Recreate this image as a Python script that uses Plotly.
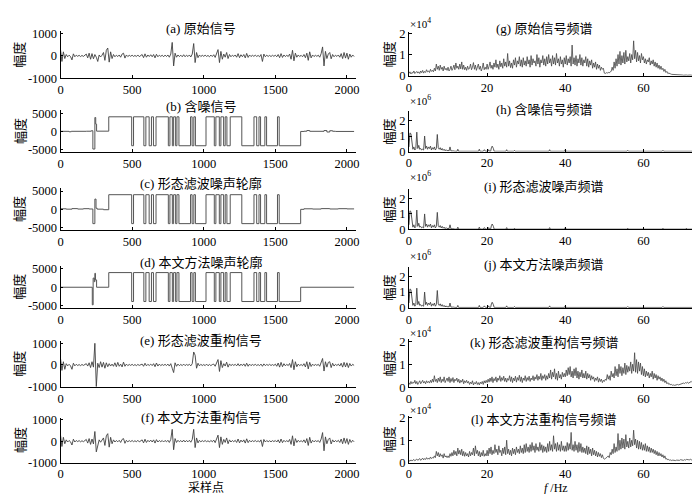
import numpy as np
import plotly.graph_objects as go

W, H = 700, 494
FONT = "Liberation Serif, Times New Roman, Noto Sans CJK SC"

# ---- time-domain signals, one value every 10 samples ----
t = np.arange(0, 2060, 10)

sig_a = [280, -250, 180, -120, 60, -40, 30, -30, -180, 90,
         -40, 30, -20, 25, -30, 20, -25, 40, 80, -90,
         120, -150, 100, -130, 60, -60, -250, 40, -50, 30,
         150, -200, 250, 350, -280, 180, -120, 60, -40, 30,
         -30, 40, -60, 80, 120, -100, 40, -30, 25, -20,
         30, -25, 20, -30, 40, -35, 30, 60, -80, 90,
         -60, 40, -30, 50, -40, 60, -90, 70, -40, 30,
         -25, 30, -40, 35, -30, 40, -60, 80, 600, -450,
         120, -60, 40, -30, 30, -40, 50, -40, 30, -30,
         40, -50, 80, 550, -300, 150, -80, 40, -30, 25,
         -20, 30, -25, 20, -40, 35, -30, 50, -70, 120,
         280, -300, 200, -150, 80, -60, 150, -120, 60, -40,
         30, -25, 40, -60, 100, -80, 50, -40, 60, -90,
         110, -70, 40, -30, 25, -20, 30, -25, 20, -40,
         60, -250, 80, -40, 30, -25, 20, -30, 25, -20,
         30, -40, 60, -80, 100, -70, 40, -30, 25, -30,
         80, -150, 250, -220, 120, -60, 40, -30, 25, -40,
         60, -80, 120, -200, 180, -90, 40, -30, 25, -20,
         30, -60, 100, 400, -450, 200, -120, 80, 150, -130,
         60, -40, 30, -25, 40, -60, 100, -120, 150, -100,
         120, -150, 80, -60, 40, -30]

sig_e = [300, -250, 150, -200, 60, -40, 30, -40, -200, 80,
         -40, 30, -25, 20, -30, 25, -20, 30, 60, -50,
         100, -120, 150, -100, 1000, -1000, 80, -120, 150, -100,
         120, -150, 100, -80, 60, -50, 40, -60, 100, -80,
         120, -60, 40, -90, 130, -60, 40, -30, 25, -20,
         30, -25, 20, -30, 25, -20, 30, 40, -60, 80,
         -40, 30, -25, 40, -30, 60, -80, 90, -50, 40,
         -30, 25, -20, 30, -25, 40, -50, 60, -150, -350,
         100, -60, 40, -30, 25, -30, 40, -30, 25, -20,
         30, -40, 60, 600, 450, -150, 80, -40, 30, -25,
         20, -30, 40, -35, 25, -30, 20, 40, -60, 100,
         250, -300, 200, -120, 60, -50, 130, -100, 50, -30,
         25, -20, 30, -40, 60, -50, 40, -30, 50, -60,
         80, -60, 40, -30, 25, -20, 30, -25, 20, -30,
         40, -60, 50, -30, 25, -20, 30, -25, 20, -25,
         40, -60, 90, -100, 120, -80, 60, -40, 30, -30,
         70, -120, 250, -220, 150, -80, 40, -30, 25, -40,
         60, -90, 150, -180, 120, -70, 40, -30, 25, -20,
         30, -60, 120, 300, -280, 150, -100, 120, 150, -120,
         80, -50, 30, -25, 40, -50, 80, -100, 120, -90,
         100, -120, 70, -50, 30, -20]

sig_f = [280, -250, 180, -120, 60, -40, 30, -30, -180, 90,
         -40, 30, -20, 25, -30, 20, -25, 40, 80, -90,
         120, -150, 100, -130, 450, -500, -250, 60, -50, 30,
         150, -200, 250, 350, -280, 180, -120, 60, -40, 30,
         -30, 40, -60, 80, 120, -100, 40, -30, 25, -20,
         30, -25, 20, -30, 40, -35, 30, 60, -80, 90,
         -60, 40, -30, 50, -40, 60, -90, 70, -40, 30,
         -25, 30, -40, 35, -30, 40, -60, 80, 550, -400,
         120, -60, 40, -30, 30, -40, 50, -40, 30, -30,
         40, -50, 80, 550, -300, 150, -80, 40, -30, 25,
         -20, 30, -25, 20, -40, 35, -30, 50, -70, 120,
         280, -300, 200, -150, 80, -60, 150, -120, 60, -40,
         30, -25, 40, -60, 100, -80, 50, -40, 60, -90,
         110, -70, 40, -30, 25, -20, 30, -25, 20, -40,
         60, -250, 80, -40, 30, -25, 20, -30, 25, -20,
         30, -40, 60, -80, 100, -70, 40, -30, 25, -30,
         80, -150, 250, -220, 120, -60, 40, -30, 25, -40,
         60, -80, 120, -200, 180, -90, 40, -30, 25, -20,
         30, -60, 100, 400, -450, 200, -120, 80, 150, -130,
         60, -40, 30, -25, 40, -60, 100, -120, 150, -100,
         120, -150, 80, -60, 40, -30]

# ---- noise profile: segment start points and levels (step curve) ----
pulse_x = [337, 497, 510, 582, 596, 619, 635, 649, 667, 753, 764, 781, 790,
           804, 813, 827, 908, 919, 931, 942, 1016, 1074, 1085, 1109, 1120,
           1139, 1150, 1162, 1185, 1266, 1351, 1370, 1386, 1397, 1427, 1439,
           1515, 1527, 1677]
pulse_y = [4000, -3900, 4000, -3900, 4000, -3900, 4000, -3900, 4000, -3900,
           4000, -3900, 4000, -3900, 4000, -3900, 4000, -3900, 4000, -3900,
           4000, -3900, 4000, -3900, 4000, -3900, 4000, -3900, 4000, -3900,
           4000, -3900, 4000, -3900, 4000, -3900, 4000, -3900, 0]

b_pre_x = [0, 60, 75, 180, 215, 226, 240, 246, 252]
b_pre_y = [30, -80, 40, 60, 200, -4800, 3800, 2000, 80]
b_post_x = [1700, 1720, 1740, 1840, 1860, 1880, 1900, 1920, 2050]
b_post_y = [60, 250, 40, 250, -150, 200, 50, 0, 0]

c_pre_x = [0, 40, 80, 120, 160, 200, 226, 240, 248, 256, 300]
c_pre_y = [150, 50, 200, 80, 180, 100, -3900, 2800, 300, 50, -100]
c_post_x = [1700, 1760, 1820, 1880, 1940, 2000, 2050]
c_post_y = [150, 80, 200, 100, 180, 120, 120]

d_pre_x = [0, 222, 228, 236, 240, 244, 252]
d_pre_y = [0, -4800, 2500, 1500, 3800, 2000, 0]
d_post_x = [2050]
d_post_y = [0]

# ---- spectra, 0.25 Hz spacing (x10^4) ----
f = np.arange(0, 75.25, 0.25)

spec_g = [0.10, 0.18, 0.08, 0.15, 0.12, 0.22, 0.10, 0.16, 0.20, 0.12, 0.18, 0.10, 0.22, 0.14, 0.25, 0.12, 0.20, 0.15, 0.28, 0.18,
          0.22, 0.15, 0.30, 0.20, 0.25, 0.18, 0.35, 0.22, 0.55, 0.30, 0.45, 0.25, 0.50, 0.30, 0.40, 0.22, 0.45, 0.28, 0.35, 0.25,
          0.40, 0.22, 0.30, 0.45, 0.25, 0.35, 0.50, 0.28, 0.60, 0.35, 0.45, 0.30, 0.55, 0.32, 0.65, 0.30, 0.50, 0.28, 0.40, 0.25,
          0.45, 0.30, 0.35, 0.55, 0.28, 0.40, 0.62, 0.30, 0.50, 0.25, 0.38, 0.55, 0.30, 0.45, 0.22, 0.35, 0.60, 0.28, 0.40, 0.30,
          0.55, 0.30, 0.45, 0.65, 0.35, 0.50, 0.30, 0.60, 0.40, 0.75, 0.38, 0.55, 0.30, 0.70, 0.42, 0.60, 0.35, 0.80, 0.45, 0.65,
          0.40, 1.05, 0.45, 0.70, 0.38, 0.60, 0.35, 0.75, 0.50, 0.85, 0.40, 0.70, 0.55, 0.90, 0.45, 0.75, 0.40, 0.85, 0.50, 0.70,
          0.45, 0.90, 0.55, 0.75, 0.40, 0.95, 0.50, 0.80, 0.60, 0.70, 0.45, 1.00, 0.55, 0.85, 0.40, 0.75, 0.60, 0.95, 0.50, 0.80,
          0.45, 0.90, 0.55, 1.00, 0.60, 0.80, 0.45, 0.95, 0.55, 0.85, 0.50, 1.05, 0.60, 0.80, 0.45, 0.90, 0.55, 0.75, 0.40, 0.85,
          0.55, 0.95, 0.50, 0.80, 0.60, 0.90, 0.45, 1.45, 0.55, 0.85, 0.50, 0.95, 0.45, 0.80, 0.60, 1.00, 0.50, 0.85, 0.45, 0.75,
          0.60, 0.90, 0.45, 0.80, 0.40, 0.70, 0.50, 0.75, 0.35, 0.60, 0.40, 0.65, 0.30, 0.55, 0.35, 0.50, 0.25, 0.40, 0.30, 0.35,
          0.12, 0.10, 0.14, 0.12, 0.15, 0.13, 0.18, 0.20, 0.40, 0.25, 0.65, 0.35, 0.80, 0.45, 1.00, 0.55, 1.15, 0.50, 0.95, 0.60,
          1.10, 0.55, 1.20, 0.65, 0.90, 0.70, 1.05, 0.60, 1.00, 0.75, 1.65, 0.80, 1.20, 0.65, 1.10, 0.70, 0.95, 0.60, 1.05, 0.75,
          0.90, 0.60, 0.80, 0.55, 0.75, 0.65, 0.85, 0.50, 0.70, 0.55, 0.75, 0.45, 0.65, 0.40, 0.60, 0.35, 0.50, 0.30, 0.45, 0.28,
          0.35, 0.20, 0.30, 0.15, 0.20, 0.10, 0.12, 0.08, 0.08, 0.06, 0.06, 0.05, 0.05, 0.04, 0.04, 0.03, 0.04, 0.03, 0.03, 0.03,
          0.03, 0.02, 0.03, 0.02, 0.03, 0.02, 0.03, 0.02, 0.03, 0.02, 0.03, 0.02, 0.03, 0.02, 0.03, 0.02, 0.03, 0.02, 0.03, 0.02,
          0.03]

spec_k = [0.20, 0.12, 0.25, 0.15, 0.22, 0.18, 0.30, 0.15, 0.25, 0.12, 0.20, 0.28, 0.15, 0.22, 0.30, 0.18, 0.25, 0.15, 0.28, 0.20,
          0.25, 0.18, 0.30, 0.20, 0.35, 0.22, 0.50, 0.25, 0.35, 0.20, 0.40, 0.25, 0.45, 0.20, 0.35, 0.25, 0.45, 0.20, 0.30, 0.40,
          0.25, 0.45, 0.20, 0.38, 0.25, 0.42, 0.20, 0.35, 0.28, 0.40, 0.22, 0.35, 0.18, 0.30, 0.22, 0.35, 0.15, 0.28, 0.20, 0.30,
          0.18, 0.25, 0.12, 0.22, 0.15, 0.28, 0.10, 0.20, 0.15, 0.25, 0.12, 0.20, 0.10, 0.22, 0.15, 0.25, 0.12, 0.28, 0.18, 0.30,
          0.20, 0.35, 0.22, 0.40, 0.25, 0.45, 0.20, 0.38, 0.28, 0.45, 0.22, 0.40, 0.30, 0.50, 0.25, 0.42, 0.30, 0.48, 0.25, 0.40,
          0.22, 0.38, 0.30, 0.50, 0.25, 0.45, 0.20, 0.40, 0.28, 0.48, 0.22, 0.42, 0.30, 0.52, 0.25, 0.45, 0.20, 0.40, 0.30, 0.50,
          0.25, 0.42, 0.30, 0.48, 0.25, 0.40, 0.32, 0.50, 0.28, 0.45, 0.35, 0.55, 0.30, 0.48, 0.35, 0.60, 0.30, 0.50, 0.38, 0.55,
          0.30, 0.50, 0.35, 0.60, 0.40, 0.75, 0.35, 0.65, 0.45, 0.80, 0.35, 0.60, 0.30, 0.70, 0.40, 0.55, 0.35, 0.65, 0.45, 0.60,
          0.45, 0.75, 0.50, 0.85, 0.55, 0.90, 0.45, 0.70, 0.40, 0.80, 0.50, 0.85, 0.40, 0.70, 0.35, 0.65, 0.45, 0.75, 0.40, 0.60,
          0.40, 0.70, 0.35, 0.60, 0.40, 0.55, 0.30, 0.50, 0.35, 0.45, 0.25, 0.40, 0.30, 0.45, 0.22, 0.38, 0.25, 0.35, 0.20, 0.30,
          0.25, 0.35, 0.30, 0.55, 0.35, 0.50, 0.30, 0.70, 0.45, 0.60, 0.40, 0.90, 0.50, 0.80, 0.45, 1.00, 0.60, 0.90, 0.50, 0.85,
          0.60, 1.05, 0.55, 0.95, 0.65, 0.90, 0.70, 1.10, 0.60, 1.00, 0.70, 1.50, 0.65, 1.20, 0.60, 1.10, 0.70, 1.05, 0.55, 0.90,
          0.50, 0.80, 0.45, 0.70, 0.50, 0.65, 0.40, 0.60, 0.45, 0.70, 0.35, 0.60, 0.40, 0.55, 0.30, 0.50, 0.35, 0.45, 0.28, 0.40,
          0.25, 0.35, 0.20, 0.28, 0.15, 0.20, 0.12, 0.15, 0.10, 0.12, 0.08, 0.10, 0.08, 0.10, 0.09, 0.12, 0.10, 0.12, 0.11, 0.14,
          0.15, 0.18, 0.16, 0.20, 0.18, 0.22, 0.17, 0.20, 0.22, 0.25, 0.20, 0.24, 0.22, 0.26, 0.23, 0.28, 0.24, 0.27, 0.25, 0.28,
          0.26]

spec_l = [0.10, 0.06, 0.12, 0.08, 0.10, 0.14, 0.08, 0.12, 0.16, 0.10, 0.14, 0.18, 0.10, 0.15, 0.20, 0.12, 0.18, 0.14, 0.22, 0.15,
          0.20, 0.15, 0.25, 0.18, 0.22, 0.20, 0.30, 0.22, 0.50, 0.30, 0.45, 0.25, 0.40, 0.28, 0.35, 0.20, 0.40, 0.25, 0.30, 0.22,
          0.30, 0.22, 0.40, 0.28, 0.45, 0.30, 0.55, 0.35, 0.50, 0.30, 0.65, 0.38, 0.55, 0.35, 0.60, 0.30, 0.50, 0.28, 0.45, 0.30,
          0.40, 0.25, 0.50, 0.30, 0.45, 0.35, 0.65, 0.30, 0.75, 0.40, 0.55, 0.30, 0.50, 0.25, 0.45, 0.30, 0.55, 0.28, 0.40, 0.30,
          0.55, 0.30, 0.65, 0.40, 0.70, 0.35, 0.55, 0.40, 0.80, 0.45, 0.60, 0.35, 0.75, 0.45, 0.55, 0.30, 0.65, 0.40, 0.70, 0.35,
          1.00, 0.40, 0.60, 0.35, 0.55, 0.30, 0.65, 0.40, 0.60, 0.35, 0.70, 0.45, 0.60, 0.40, 0.75, 0.45, 0.65, 0.40, 0.80, 0.45,
          0.85, 0.50, 0.70, 0.45, 0.80, 0.50, 0.90, 0.55, 0.75, 0.45, 0.85, 0.55, 0.70, 0.50, 0.90, 0.55, 0.80, 0.45, 0.75, 0.50,
          0.70, 0.45, 0.85, 0.50, 0.95, 0.55, 0.80, 0.50, 1.20, 0.60, 0.85, 0.50, 0.90, 0.55, 0.80, 0.50, 0.95, 0.55, 0.75, 0.50,
          0.75, 0.50, 0.90, 0.55, 0.85, 0.60, 1.35, 0.55, 0.80, 0.50, 0.95, 0.55, 0.80, 0.45, 0.90, 0.50, 0.85, 0.45, 0.70, 0.45,
          0.65, 0.40, 0.75, 0.35, 0.70, 0.40, 0.60, 0.30, 0.65, 0.35, 0.55, 0.30, 0.50, 0.25, 0.45, 0.28, 0.40, 0.22, 0.35, 0.20,
          0.15, 0.18, 0.20, 0.25, 0.30, 0.22, 0.45, 0.35, 0.60, 0.40, 0.85, 0.45, 0.70, 0.50, 1.30, 0.55, 1.00, 0.60, 1.10, 0.65,
          1.05, 0.60, 1.25, 0.70, 0.95, 0.65, 1.10, 0.70, 1.00, 0.75, 1.45, 0.80, 1.05, 0.65, 1.00, 0.60, 0.95, 0.60, 0.90, 0.55,
          0.80, 0.55, 0.85, 0.50, 0.75, 0.50, 0.70, 0.45, 0.65, 0.45, 0.60, 0.40, 0.55, 0.35, 0.50, 0.30, 0.45, 0.30, 0.40, 0.25,
          0.35, 0.20, 0.30, 0.15, 0.18, 0.12, 0.14, 0.10, 0.12, 0.09, 0.11, 0.10, 0.12, 0.09, 0.11, 0.10, 0.12, 0.10, 0.13, 0.11,
          0.12, 0.10, 0.13, 0.11, 0.14, 0.12, 0.13, 0.12, 0.15, 0.12, 0.14, 0.13, 0.15, 0.13, 0.16, 0.14, 0.15, 0.14, 0.16, 0.14,
          0.15]

# ---- noise spectra (x10^6): dense part 0-12 Hz every 0.25 Hz, then sparse tail ----
fn_lo = np.arange(0, 12.25, 0.25)
noise_lo = [0.30, 1.20, 1.15, 0.40, 0.15, 0.30, 0.10, 0.20, 1.25, 0.20,
            0.40, 0.15, 0.20, 0.10, 0.15, 0.10, 1.00, 0.20, 0.35, 0.15,
            0.30, 0.20, 0.35, 0.10, 0.25, 0.15, 0.30, 0.10, 0.20, 1.10,
            0.25, 0.15, 0.25, 0.10, 0.20, 0.08, 0.15, 0.05, 0.12, 0.05,
            0.08, 0.04, 0.30, 0.04, 0.05, 0.03, 0.04, 0.02, 0.03]
fn_tail = [12.3, 12.5, 12.7, 17.8, 18.0, 18.2, 19.0, 19.3, 19.6, 20.2, 20.4,
           20.6, 20.9, 21.1, 21.3, 21.6, 21.8, 22.0, 24.8, 25.0, 25.2, 26.8,
           27.0, 27.2, 33.3, 33.5, 33.7, 35.8, 36.0, 36.2, 39.8, 40.0, 40.2,
           49.8, 50.0, 50.2, 55.8, 56.0, 56.2, 64.8, 65.0, 65.2, 70.8, 71.0,
           71.2, 75.0]
tail_h = [0.02, 0.15, 0.02, 0.02, 0.15, 0.02, 0.02, 0.12, 0.02, 0.02, 0.12,
          0.02, 0.02, 0.25, 0.35, 0.20, 0.02, 0.02, 0.02, 0.12, 0.02, 0.02,
          0.08, 0.02, 0.02, 0.06, 0.02, 0.02, 0.12, 0.02, 0.02, 0.12, 0.02,
          0.02, 0.06, 0.02, 0.02, 0.08, 0.02, 0.02, 0.08, 0.02, 0.02, 0.02,
          0.02, 0.02]
tail_i = [0.02, 0.15, 0.02, 0.02, 0.15, 0.02, 0.02, 0.12, 0.02, 0.02, 0.12,
          0.02, 0.02, 0.25, 0.35, 0.20, 0.02, 0.02, 0.02, 0.12, 0.02, 0.02,
          0.08, 0.02, 0.02, 0.06, 0.02, 0.02, 0.12, 0.02, 0.02, 0.12, 0.02,
          0.02, 0.06, 0.02, 0.02, 0.08, 0.02, 0.02, 0.08, 0.02, 0.02, 0.08,
          0.02, 0.02]
tail_j = [0.02, 0.15, 0.02, 0.02, 0.15, 0.02, 0.02, 0.12, 0.02, 0.02, 0.12,
          0.02, 0.02, 0.25, 0.35, 0.20, 0.02, 0.02, 0.02, 0.12, 0.02, 0.02,
          0.08, 0.02, 0.02, 0.02, 0.02, 0.02, 0.12, 0.02, 0.02, 0.12, 0.02,
          0.02, 0.06, 0.02, 0.02, 0.08, 0.02, 0.02, 0.08, 0.02, 0.02, 0.02,
          0.02, 0.02]

titles_left = ["(a) 原始信号", "(b) 含噪信号", "(c) 形态滤波噪声轮廓",
               "(d) 本文方法噪声轮廓", "(e) 形态滤波重构信号", "(f) 本文方法重构信号"]
titles_right = ["(g) 原始信号频谱", "(h) 含噪信号频谱", "(i) 形态滤波噪声频谱",
                "(j) 本文方法噪声频谱", "(k) 形态滤波重构信号频谱", "(l) 本文方法重构信号频谱"]

# panel placement in pixels: (top, bottom)
left_rows = [(17.7, 66), (98.8, 141.7), (178.8, 221.7), (258.8, 301.7), (336, 382.7), (414.5, 460.7)]
right_rows = [(18.9, 63.3), (99.8, 141.3), (179.8, 221.3), (259.8, 301.7), (333.7, 383.3), (412.5, 460.7)]
left_x = (50, 348)
right_x = (402, 698)
title_y_left = [15, 95, 174, 255, 335, 414]
title_y_right = [15, 98, 177, 257, 337, 416]

fig = go.Figure()
layout = {}


def add_panel(n, xs, ys, xpx, ypx, xrange, xticks, yrange, yticks, color, width, shape="linear"):
    xa = "xaxis" if n == 1 else f"xaxis{n}"
    ya = "yaxis" if n == 1 else f"yaxis{n}"
    fig.add_trace(go.Scatter(x=xs, y=ys, mode="lines", xaxis=f"x{n}", yaxis=f"y{n}",
                             line=dict(color=color, width=width, shape=shape),
                             showlegend=False, hoverinfo="skip"))
    common = dict(showgrid=False, zeroline=False, showline=True, linecolor="black",
                  linewidth=0.8, ticks="inside", ticklen=3, tickcolor="black",
                  tickfont=dict(family=FONT, size=12.5, color="black"))
    layout[xa] = dict(domain=[xpx[0] / W, xpx[1] / W], range=xrange, anchor=f"y{n}",
                      tickvals=xticks, ticktext=[str(v) for v in xticks], **common)
    layout[ya] = dict(domain=[1 - ypx[1] / H, 1 - ypx[0] / H], range=yrange, anchor=f"x{n}",
                      tickvals=yticks, ticktext=[str(v) for v in yticks], **common)


xt_left = [0, 500, 1000, 1500, 2000]
xt_right = [0, 20, 40, 60]

prof_b = (b_pre_x + pulse_x + b_post_x, b_pre_y + pulse_y + b_post_y)
prof_c = (c_pre_x + pulse_x + c_post_x, c_pre_y + pulse_y + c_post_y)
prof_d = (d_pre_x + pulse_x + d_post_x, d_pre_y + pulse_y + d_post_y)

sig_col, sig_w = "#3f3f3f", 0.9
add_panel(1, t, sig_a, left_x, left_rows[0], [0, 2060], xt_left, [-1000, 1100], [-1000, 0, 1000], sig_col, sig_w)
add_panel(2, prof_b[0], prof_b[1], left_x, left_rows[1], [0, 2060], xt_left, [-5600, 5800], [-5000, 0, 5000], "#555555", 1, "hv")
add_panel(3, prof_c[0], prof_c[1], left_x, left_rows[2], [0, 2060], xt_left, [-5600, 5800], [-5000, 0, 5000], "#555555", 1, "hv")
add_panel(4, prof_d[0], prof_d[1], left_x, left_rows[3], [0, 2060], xt_left, [-5600, 5800], [-5000, 0, 5000], "#555555", 1, "hv")
add_panel(5, t, sig_e, left_x, left_rows[4], [0, 2060], xt_left, [-1000, 1100], [-1000, 0, 1000], sig_col, sig_w)
add_panel(6, t, sig_f, left_x, left_rows[5], [0, 2060], xt_left, [-1000, 1100], [-1000, 0, 1000], sig_col, sig_w)

fn_all = list(fn_lo) + fn_tail
spec_col, spec_w = "#444444", 0.8
add_panel(7, f, spec_g, right_x, right_rows[0], [0, 75], xt_right, [0, 2.05], [0, 1, 2], spec_col, spec_w)
add_panel(8, fn_all, noise_lo + tail_h, right_x, right_rows[1], [0, 75], xt_right, [0, 2.6], [0, 1, 2], "#444444", 0.9)
add_panel(9, fn_all, noise_lo + tail_i, right_x, right_rows[2], [0, 75], xt_right, [0, 2.6], [0, 1, 2], "#444444", 0.9)
add_panel(10, fn_all, noise_lo + tail_j, right_x, right_rows[3], [0, 75], xt_right, [0, 2.6], [0, 1, 2], "#444444", 0.9)
add_panel(11, f, spec_k, right_x, right_rows[4], [0, 75], xt_right, [0, 2.1], [0, 1, 2], spec_col, spec_w)
add_panel(12, f, spec_l, right_x, right_rows[5], [0, 75], xt_right, [0, 2.1], [0, 1, 2], spec_col, spec_w)

anns = []
tfont = dict(family=FONT, size=13, color="black")
for i in range(6):
    anns.append(dict(text=titles_left[i], x=192 / W, y=1 - title_y_left[i] / H, xref="paper", yref="paper",
                     showarrow=False, xanchor="center", yanchor="middle", font=tfont))
    anns.append(dict(text=titles_right[i], x=538 / W, y=1 - title_y_right[i] / H, xref="paper", yref="paper",
                     showarrow=False, xanchor="center", yanchor="middle", font=tfont))
    cy_l = (left_rows[i][0] + left_rows[i][1]) / 2
    cy_r = (right_rows[i][0] + right_rows[i][1]) / 2
    anns.append(dict(text="幅度", x=9 / W, y=1 - cy_l / H, xref="paper", yref="paper", textangle=-90,
                     showarrow=False, xanchor="center", yanchor="middle", font=tfont))
    anns.append(dict(text="幅度", x=382 / W, y=1 - cy_r / H, xref="paper", yref="paper", textangle=-90,
                     showarrow=False, xanchor="center", yanchor="middle", font=tfont))

exp_y = [9, 88, 166, 247, 327, 406]
exp_txt = ["×10<sup>4</sup>", "×10<sup>6</sup>", "×10<sup>6</sup>", "×10<sup>6</sup>",
           "×10<sup>4</sup>", "×10<sup>4</sup>"]
for yy, tx in zip(exp_y, exp_txt):
    anns.append(dict(text=tx, x=401 / W, y=1 - yy / H, xref="paper", yref="paper", showarrow=False,
                     xanchor="left", yanchor="middle", font=dict(family=FONT, size=11, color="black")))

bfont = dict(family=FONT, size=12, color="black")
anns.append(dict(text="采样点", x=197 / W, y=1 - 486 / H, xref="paper", yref="paper", showarrow=False,
                 xanchor="center", yanchor="middle", font=bfont))
anns.append(dict(text="<i>f</i> /Hz", x=550 / W, y=1 - 486.5 / H, xref="paper", yref="paper", showarrow=False,
                 xanchor="center", yanchor="middle", font=bfont))

fig.update_layout(width=W, height=H, margin=dict(l=0, r=0, t=0, b=0),
                  paper_bgcolor="white", plot_bgcolor="white",
                  annotations=anns, **layout)

fig.write_html("out.html")
